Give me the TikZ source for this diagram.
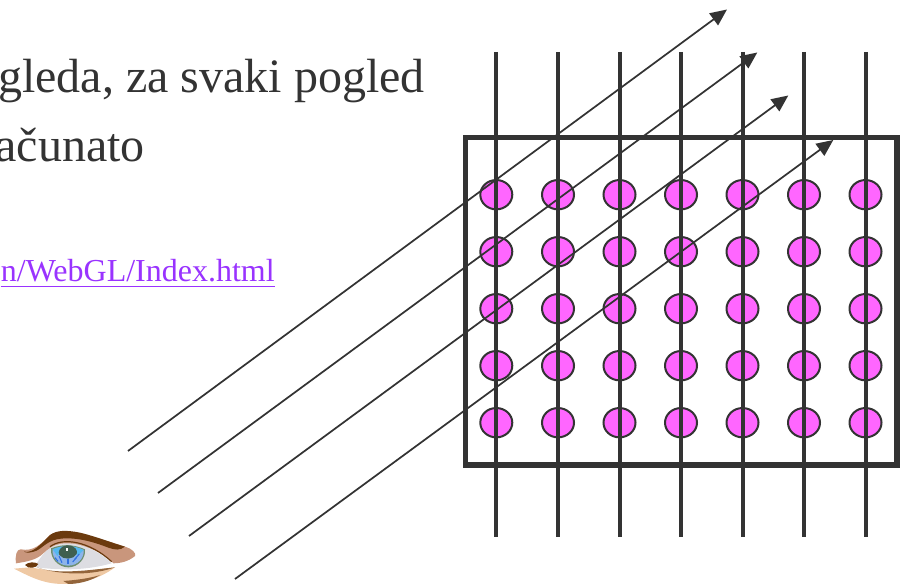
\documentclass[tikz,border=0pt]{standalone}
\usepackage{fontspec}
\setmainfont{Liberation Serif}
\usetikzlibrary{arrows.meta, shapes.geometric}
\definecolor{ink}{HTML}{333333}
\definecolor{dotpink}{HTML}{FF66FF}
\definecolor{linkpurple}{HTML}{9933FF}
\definecolor{browdark}{HTML}{6B3A0E}
\definecolor{lidtan}{HTML}{C9967C}
\definecolor{skinlight}{HTML}{EFC9A4}
\definecolor{eyewhite}{HTML}{DDDDE2}
\definecolor{irisblue}{HTML}{8DB4EA}
\definecolor{irisrim}{HTML}{6E9070}
\definecolor{skyblue}{HTML}{55B8F0}
\definecolor{pupil}{HTML}{3F5F50}
\definecolor{raybar}{HTML}{3070E0}

\begin{document}
\begin{tikzpicture}[
    x=0.75pt, y=-0.75pt,
    txt/.style={font=\fontsize{36pt}{36pt}\selectfont, anchor=base east, text=ink, inner sep=0pt},
    lnk/.style={font=\fontsize{24pt}{24pt}\selectfont, anchor=base east, text=linkpurple, inner sep=0pt},
    dot/.style={ellipse, draw=ink, line width=1.5pt, fill=dotpink, minimum width=24pt, minimum height=22pt, inner sep=0pt},
    wire/.style={ink, line width=3pt},
    ray/.style={ink, line width=1.3pt, -{Triangle[length=12.5pt, width=11pt]}},
]
\useasboundingbox (0,0) rectangle (904,584);

% === TEXT ===
\node[txt] (line1) at (425,93) {gleda, za svaki pogled};
\node[txt] (line2) at (145,162) {ačunato};
\node[lnk] (link) at (275,281.7) {n/WebGL/Index.html};
\draw[linkpurple, line width=1.4pt] ([yshift=-3.6pt]link.base west) -- ([yshift=-3.6pt]link.base east);

% === DOTS ===
\foreach \cx [count=\c] in {496.3, 558, 619.5, 681, 742.5, 804, 865.5}{
    \foreach \cy [count=\r] in {194.7, 251.7, 308.7, 365.7, 422.7}{
        \node[dot] (d\c-\r) at (\cx, \cy) {};
    }
}

% === WIRES ===
\foreach \cx [count=\c] in {496.3, 558, 619.5, 681, 742.5, 804, 865.5}{
    \coordinate (wt\c) at (\cx, 52);
    \coordinate (wb\c) at (\cx, 537);
    \draw[wire] (wt\c) -- (wb\c);
}

% === FRAME ===
\draw[ink, line width=4.2pt] (465.5,137.7) rectangle (896.7,465.3);

% === RAYS ===
\foreach \sx/\sy/\ex/\ey [count=\n] in {128/451/727/9.5, 158/493/757.3/52.5, 189/536/788.3/95.5, 235/579/833.3/140}{
    \coordinate (rs\n) at (\sx, \sy);
    \coordinate (re\n) at (\ex, \ey);
    \draw[ray] (rs\n) -- (re\n);
}

% === EYE ===
\begin{scope}[shift={(0,480)}, x=0.25pt, y=-0.25pt]
    \fill[skinlight] (42,266) -- (90,262) -- (200,280) -- (345,262) .. controls (300,295) and (250,310) .. (190,312) .. controls (130,312) and (90,290) .. (42,266) -- cycle;
    \fill[lidtan] (48,250) .. controls (45,225) and (50,208) .. (62,208) .. controls (100,215) and (120,195) .. (150,165) .. controls (200,150) and (300,175) .. (375,200) .. controls (395,205) and (410,220) .. (405,228) .. controls (385,245) and (360,250) .. (340,250) .. controls (300,200) and (180,170) .. (130,220) .. controls (110,240) and (80,245) .. (48,250) -- cycle;
    \fill[eyewhite] (110,250) .. controls (130,220) and (150,190) .. (200,190) .. controls (260,190) and (310,225) .. (335,250) .. controls (280,265) and (210,275) .. (110,262) -- cycle;
    \fill[irisrim] (153,205) .. controls (150,235) and (175,262) .. (205,262) .. controls (235,262) and (258,235) .. (255,208) .. controls (220,192) and (185,192) .. (153,205) -- cycle;
    \fill[irisblue] (158,208) .. controls (155,235) and (178,257) .. (205,257) .. controls (232,257) and (253,235) .. (251,210) .. controls (220,197) and (185,197) .. (158,208) -- cycle;
    \fill[skyblue] (158,208) .. controls (185,195) and (222,195) .. (251,210) .. controls (240,222) and (235,225) .. (232,226) .. controls (215,196) and (185,205) .. (172,228) -- cycle;
    \fill[pupil] (203,196) .. controls (180,197) and (172,215) .. (178,225) .. controls (190,240) and (220,240) .. (230,222) .. controls (235,212) and (225,196) .. (203,196) -- cycle;
    \fill[white] (198,203) rectangle (204,214);
    \foreach \a/\b/\c/\d in {165/233/174/244, 177/228/186/248, 204/236/204/252, 238/222/224/238, 230/232/218/246}{
        \draw[raybar, line width=0.8pt] (\a,\b) -- (\c,\d);
    }
    \fill[browdark] (72,215) .. controls (100,220) and (120,195) .. (150,165) .. controls (170,150) and (200,150) .. (240,158) .. controls (290,170) and (340,190) .. (375,200) .. controls (360,212) and (345,210) .. (325,203) .. controls (280,185) and (220,168) .. (170,178) .. controls (140,185) and (125,205) .. (110,212) .. controls (95,218) and (80,220) .. (72,215) -- cycle;
    \draw[browdark, line width=0.9pt] (150,200) .. controls (190,170) and (270,185) .. (335,245);
    \fill[browdark] (75,255) .. controls (85,245) and (105,245) .. (115,252) .. controls (110,265) and (85,268) .. (75,255) -- cycle;
    \fill[browdark!70!skinlight] (110,262) .. controls (170,285) and (270,270) .. (345,262) .. controls (280,285) and (190,288) .. (110,262) -- cycle;
    \fill[browdark!70!skinlight] (190,303) .. controls (230,300) and (270,295) .. (300,285) .. controls (270,305) and (230,312) .. (205,312) -- cycle;
\end{scope}

\end{tikzpicture}
\end{document}
